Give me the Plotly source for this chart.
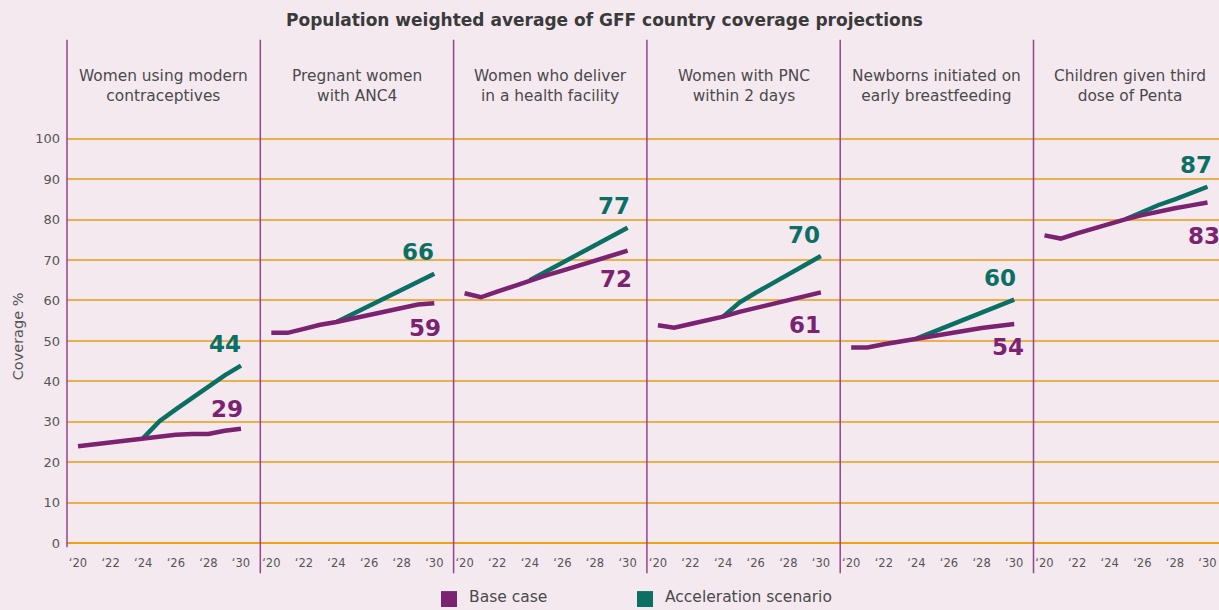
import plotly.graph_objects as go
from plotly.subplots import make_subplots

years = [2020, 2021, 2022, 2023, 2024, 2025, 2026, 2027, 2028, 2029, 2030]
tick_years = [2020, 2022, 2024, 2026, 2028, 2030]
tick_text = ["‘20", "‘22", "‘24", "‘26", "‘28", "‘30"]

panel_titles = [
    "Women using modern<br>contraceptives",
    "Pregnant women<br>with ANC4",
    "Women who deliver<br>in a health facility",
    "Women with PNC<br>within 2 days",
    "Newborns initiated on<br>early breastfeeding",
    "Children given third<br>dose of Penta",
]

base_contra = [24.0, 24.5, 25.0, 25.5, 26.0, 26.4, 26.8, 27.0, 27.0, 27.8, 28.3]
accel_contra = [None, None, None, None, 26.0, 30.2, 33.1, 36.0, 38.8, 41.5, 43.9]
base_anc4 = [52.0, 52.0, 53.0, 54.0, 54.7, 55.6, 56.5, 57.3, 58.2, 59.0, 59.3]
accel_anc4 = [None, None, None, None, 54.7, 56.7, 58.7, 60.7, 62.7, 64.7, 66.6]
base_facility = [61.8, 60.8, 62.2, 63.6, 65.0, 66.2, 67.4, 68.6, 69.9, 71.1, 72.3]
accel_facility = [None, None, None, None, 65.0, 67.2, 69.4, 71.6, 73.8, 76.0, 78.0]
base_pnc = [53.9, 53.3, 54.2, 55.1, 56.0, 57.2, 58.2, 59.2, 60.1, 61.1, 62.0]
accel_pnc = [None, None, None, None, 56.0, 59.5, 61.9, 64.2, 66.5, 68.8, 71.0]
base_ebf = [48.4, 48.4, 49.2, 49.9, 50.6, 51.3, 52.0, 52.6, 53.2, 53.7, 54.2]
accel_ebf = [None, None, None, None, 50.6, 52.2, 53.9, 55.5, 57.1, 58.7, 60.2]
base_penta = [76.1, 75.3, 76.6, 77.8, 79.0, 80.1, 81.1, 82.0, 82.8, 83.5, 84.2]
accel_penta = [None, None, None, None, None, 80.1, 82.0, 83.6, 85.0, 86.6, 88.1]

base_series = [base_contra, base_anc4, base_facility, base_pnc, base_ebf, base_penta]
accel_series = [accel_contra, accel_anc4, accel_facility, accel_pnc, accel_ebf, accel_penta]
accel_labels = ["44", "66", "77", "70", "60", "87"]
base_labels = ["29", "59", "72", "61", "54", "83"]

y_ticks = [0, 10, 20, 30, 40, 50, 60, 70, 80, 90, 100]

# ---- style ----
W, H = 1219, 610
BG = "#F5E9F0"
PURPLE = "#7B2270"
TEAL = "#0B6F64"
GRID = "#EBB04A"
ZERO = "#EFA214"
DIV = "#93448C"
TXT = "#4A4A4A"
FONT = "DejaVu Sans"

accel_dy = 5.3
base_dy = [4.8, -6.2, -7.0, -8.0, -5.6, -8.2]
accel_xshift = [2, 2, 4, 1, 4, 6]
base_xshift = [4, 9, 6, 2, 12, 14]

panel_left0 = 67.0
panel_w = 193.3
px_per_year = 16.3
x_left = 2020 - 11 / px_per_year

fig = make_subplots(rows=1, cols=6, shared_yaxes=True, horizontal_spacing=0)

for i in range(6):
    fig.add_trace(go.Scatter(x=years, y=accel_series[i], mode="lines",
                             line=dict(color=TEAL, width=4.5), showlegend=False,
                             hoverinfo="skip"), row=1, col=i + 1)
    fig.add_trace(go.Scatter(x=years, y=base_series[i], mode="lines",
                             line=dict(color=PURPLE, width=4.5), showlegend=False,
                             hoverinfo="skip"), row=1, col=i + 1)

ydom = [1 - (546 + 4.067) / H, 1 - (546 - 102 * 4.067) / H]
shapes = []
annotations = []
for i in range(6):
    left = panel_left0 + panel_w * i
    right = min(left + panel_w, W)
    xr = [x_left, x_left + (right - left) / px_per_year]
    ax = "xaxis" if i == 0 else f"xaxis{i + 1}"
    fig.layout[ax].update(domain=[left / W, right / W], range=xr,
                          tickvals=tick_years, ticktext=tick_text,
                          showgrid=False, zeroline=False, showline=False,
                          ticks="", ticklabelstandoff=7,
                          tickfont=dict(size=11.5, color="#555555", family=FONT))
    xref = "x" if i == 0 else f"x{i + 1}"
    yref = "y"
    # dividers
    y_bot = 550 if i == 0 else 576
    shapes.append(dict(type="line", xref="paper", yref="paper",
                       x0=left / W, x1=left / W, y0=1 - 40 / H, y1=1 - y_bot / H,
                       line=dict(color=DIV, width=1.5), layer="above"))
    # panel titles
    annotations.append(dict(xref="paper", yref="paper", x=(left + panel_w / 2) / W,
                            y=1 - 86 / H, text=panel_titles[i], showarrow=False,
                            xanchor="center", yanchor="middle",
                            font=dict(size=15.4, color=TXT, family=FONT)))
    # end labels
    a_end = [v for v in accel_series[i] if v is not None][-1]
    b_end = base_series[i][-1]
    annotations.append(dict(xref=xref, yref=yref, x=years[-1], y=a_end + accel_dy,
                            text=f"<b>{accel_labels[i]}</b>", showarrow=False,
                            xanchor="right", yanchor="middle", xshift=accel_xshift[i],
                            font=dict(size=23, color=TEAL, family=FONT)))
    annotations.append(dict(xref=xref, yref=yref, x=years[-1], y=b_end + base_dy[i],
                            text=f"<b>{base_labels[i]}</b>", showarrow=False,
                            xanchor="right", yanchor="middle", xshift=base_xshift[i],
                            font=dict(size=23, color=PURPLE, family=FONT)))

for i in range(6):
    ay = "yaxis" if i == 0 else f"yaxis{i + 1}"
    fig.layout[ay].update(domain=ydom, range=[-1, 102], tickvals=y_ticks,
                          showgrid=True, gridcolor=GRID, gridwidth=1.5,
                          zeroline=True, zerolinecolor=ZERO, zerolinewidth=1.5,
                          showline=False, ticks="", showticklabels=(i == 0),
                          ticklabelstandoff=6,
                          tickfont=dict(size=13, color="#555555", family=FONT))

# title
annotations.append(dict(xref="paper", yref="paper", x=604.5 / W, y=1 - 20 / H,
                        text="<b>Population weighted average of GFF country coverage projections</b>",
                        showarrow=False, xanchor="center", yanchor="middle",
                        font=dict(size=17, color="#3A3A3A", family=FONT)))
# y axis title
annotations.append(dict(xref="paper", yref="paper", x=18 / W, y=1 - 338 / H,
                        text="Coverage %", textangle=-90, showarrow=False,
                        xanchor="center", yanchor="middle",
                        font=dict(size=14.5, color="#555555", family=FONT)))

# legend (manual)
legend_items = [("Base case", PURPLE, 441), ("Acceleration scenario", TEAL, 637)]
for name, col, x0 in legend_items:
    shapes.append(dict(type="rect", xref="paper", yref="paper",
                       x0=x0 / W, x1=(x0 + 16) / W, y0=1 - 594 / H, y1=1 - 610 / H,
                       fillcolor=col, line=dict(width=0)))
    annotations.append(dict(xref="paper", yref="paper", x=(x0 + 26) / W, y=1 - 600 / H,
                            text=name, showarrow=False, xanchor="left", yanchor="middle",
                            font=dict(size=15.5, color=TXT, family=FONT)))

fig.update_layout(width=W, height=H, margin=dict(l=0, r=0, t=0, b=0),
                  paper_bgcolor=BG, plot_bgcolor=BG, showlegend=False,
                  shapes=shapes, annotations=annotations,
                  font=dict(family=FONT))

fig.write_html("out.html", config={"displayModeBar": False},
               post_script="document.body.style.margin='0';document.body.style.overflow='hidden';document.body.style.background='" + BG + "';")
